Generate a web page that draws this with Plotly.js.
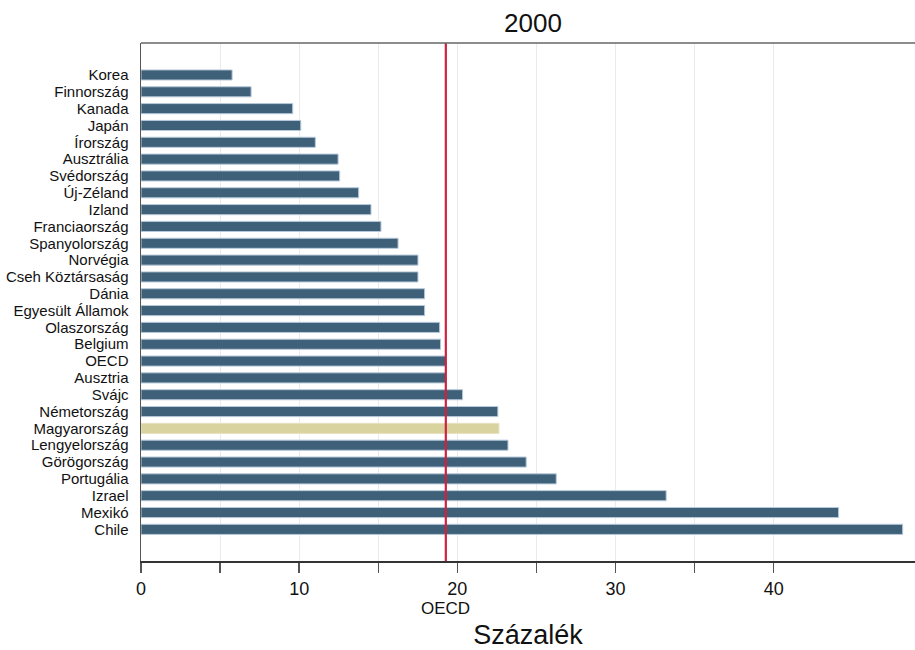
<!DOCTYPE html>
<html>
<head>
<meta charset="utf-8">
<script src="https://cdn.plot.ly/plotly-3.0.1.min.js"></script>
<style>html,body{margin:0;padding:0;background:#fff;}#chart{width:915px;height:650px;}</style>
</head>
<body>
<div id="chart"></div>
<script>
const countries = ["Korea","Finnország","Kanada","Japán","Írország","Ausztrália","Svédország","Új-Zéland","Izland","Franciaország","Spanyolország","Norvégia","Cseh Köztársaság","Dánia","Egyesült Államok","Olaszország","Belgium","OECD","Ausztria","Svájc","Németország","Magyarország","Lengyelország","Görögország","Portugália","Izrael","Mexikó","Chile"];
const values = [5.76,6.96,9.59,10.1,11.02,12.46,12.56,13.76,14.54,15.17,16.25,17.51,17.51,17.93,17.93,18.88,18.94,19.26,19.28,20.33,22.56,22.63,23.2,24.35,26.25,33.2,44.1,48.15];
const highlight = "Magyarország";
const oecdValue = 19.27;
const xTickVals = [0,5,10,15,20,25,30,35,40];
const xTickText = ["0","","10","","20","","30","","40"];
const chartTitle = "2000";
const xTitle = "Százalék";

const FONT = "Arial, 'Liberation Sans', sans-serif";
const fillColors = countries.map(c => c === highlight ? "#d9d39f" : "#3e6079");
const lineColors = countries.map(c => c === highlight ? "#e6e2bf" : "#b7c9da");

const trace = {
  type: "bar",
  orientation: "h",
  y: countries,
  x: values,
  width: 0.6,
  marker: {color: fillColors, line: {color: lineColors, width: 1}},
  hoverinfo: "x+y"
};

const layout = {
  width: 915, height: 650,
  margin: {l: 141, r: 0, t: 43, b: 89},
  paper_bgcolor: "#fff", plot_bgcolor: "#fff",
  showlegend: false,
  font: {family: FONT, color: "#111"},
  title: {text: chartTitle, font: {family: FONT, size: 26, color: "#111"}, x: 533/915, xref: "container", xanchor: "center", y: 1 - 23/650, yref: "container", yanchor: "middle"},
  xaxis: {
    range: [0, 48.93],
    tickmode: "array", tickvals: xTickVals, ticktext: xTickText,
    ticks: "outside", ticklen: 10, tickwidth: 1.5, tickcolor: "#555",
    showgrid: true, gridcolor: "#ebebeb", gridwidth: 1,
    zeroline: false,
    showline: true, linecolor: "#333", linewidth: 2, mirror: false,
    tickfont: {family: FONT, size: 18, color: "#111"},
    title: {text: xTitle, font: {family: FONT, size: 27, color: "#111"}, standoff: 32}
  },
  yaxis: {
    type: "category",
    range: [28.88, -1.9],
    categoryorder: "array", categoryarray: countries,
    tickmode: "array", tickvals: countries, ticktext: countries,
    ticks: "", showgrid: false, zeroline: false,
    showline: true, linecolor: "#555", linewidth: 1.5,
    ticklabelstandoff: 8,
    tickfont: {family: FONT, size: 15, color: "#111"}
  },
  shapes: [
    {type: "line", xref: "x", yref: "paper", x0: oecdValue, x1: oecdValue, y0: 0, y1: 1, line: {color: "#d0213f", width: 2.2}},
    {type: "line", xref: "paper", yref: "paper", x0: 0, x1: 1, y0: 1, y1: 1, line: {color: "#666", width: 1.5}}
  ],
  annotations: [
    {text: "OECD", xref: "x", yref: "paper", x: oecdValue, y: -(608-561)/518, xanchor: "center", yanchor: "middle", showarrow: false, font: {family: FONT, size: 17, color: "#111"}}
  ]
};

Plotly.newPlot("chart", [trace], layout, {displayModeBar: false, staticPlot: true});
</script>
</body>
</html>
